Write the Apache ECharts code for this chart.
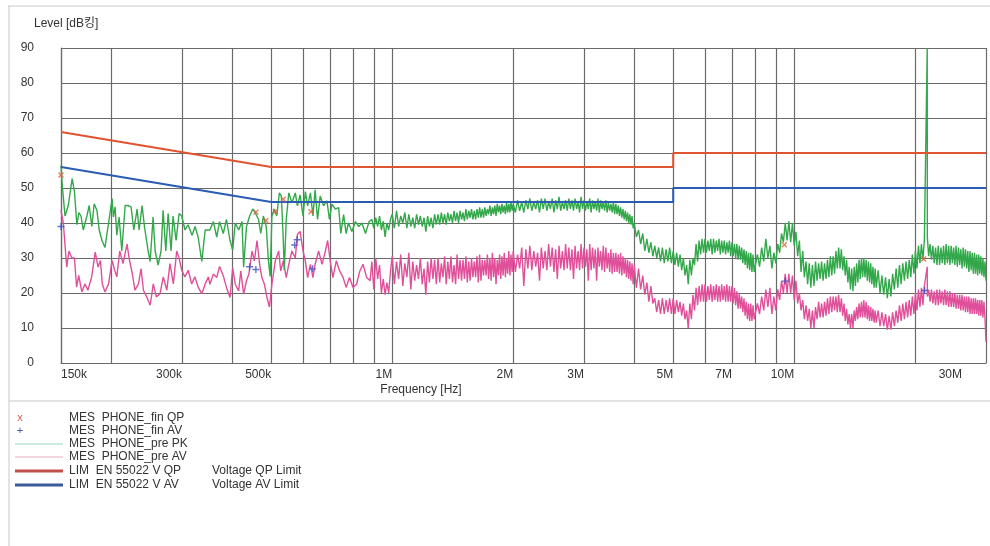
<!DOCTYPE html>
<html><head><meta charset="utf-8">
<script src="https://cdn.jsdelivr.net/npm/echarts@6/dist/echarts.min.js"></script>
<style>html,body{margin:0;padding:0;background:#fff}#c{width:990px;height:546px}</style>
</head><body><div id="c"></div>
<script>
// ---- axis ticks ----
const xTickHz = [150e3, 300e3, 500e3, 1e6, 2e6, 3e6, 5e6, 7e6, 10e6, 30e6];
const xTickLabels = ['150k', '300k', '500k', '1M', '2M', '3M', '5M', '7M', '10M', '30M'];
const xGridHz = [150e3, 200e3, 300e3, 400e3, 500e3, 600e3, 700e3, 800e3, 900e3, 1e6, 2e6, 3e6, 4e6, 5e6, 6e6, 7e6, 8e6, 9e6, 10e6, 20e6, 30e6];
const yTicks = [0, 10, 20, 30, 40, 50, 60, 70, 80, 90];

// ---- limits (EN 55022) ----
const limitFreqMHz = [0.15, 0.5, 5, 5, 30];
const qpLimit = [66, 56, 56, 60, 60];
const avLimit = [56, 46, 46, 50, 50];

// ---- final measurements ----
const finQpFreqMHz = [0.15, 0.458, 0.485, 0.512, 0.536, 0.628, 9.45, 21.0];
const finQp = [53.7, 43.1, 40.7, 43.3, 46.8, 43.2, 33.8, 29.7];
const finAvFreqMHz = [0.15, 0.442, 0.458, 0.572, 0.580, 0.634, 9.5, 21.1];
const finAv = [39, 27.5, 26.7, 33.7, 35.2, 26.9, 23.4, 20.7];

// ---- preview PK, 150k-880k (kHz) ----
const pkFreqLowKHz = [150,151,153.5,156.4,159.9,162,164.3,166.2,168.2,170.4,174,176.3,179,181.4,184.3,186.7,189.7,193,196.4,201,202.5,204.5,206.5,209.2,212.5,216.6,220,224.1,227.6,232,234.6,238.7,241.9,247.1,250,254.2,257.2,261.6,266.1,269.2,273.4,277.1,281.8,285,290,295,299.5,305.2,310.5,317.8,323.3,329,336,342.5,
352,359,366,372,380,387,395,401,407,415,423,427,434,442,450,456,465,471,478,486,492,497,502,509,516,524,530,535,539,545,553,563,574,581,590,600,608,616,626,635,643,652,662,675,688,698,708,722,736,745,757,768,778,794,810,826,841,858,876];
const pkLow = [56.5,51,42,45,52.7,49,39.5,43,42,38,42,45,39,45.5,43.6,38,35,33,39,47,41.7,44.6,36.5,41.7,32,45,45,44.6,38,44,38,45,39,32,29,41.7,32,28,32,43.6,32,42.7,32,42,35,42.7,42,38,39.5,36.5,39,36,29,38,
38,40.4,36,40.4,37,41,35,32.3,40,38,40.4,27.4,39,42,44,43,41,37,42,39,29.4,24.7,42,44,42,48.6,47.7,37,26.5,41,48.6,45.8,48.6,44.9,48,42,49,44.9,48.6,42,49.5,41,47.7,44.9,46.3,41,45.4,44,44.4,37,42.4,37,40,37.6,40.4,39,40,37,40.4];

// ---- preview AV, 150k-880k (kHz) ----
const avFreqLowKHz = [150,152,155,157,159.6,162,164,166,169,172,175,178.8,182.5,185.5,188,190,193,197,201,204,206.5,210,214,219,221.5,225.7,229,233.8,237.3,240.5,245,250,254.5,259,264.5,269.5,275,280,285.5,291,295,299.5,305,311,317,323,329,336,342.5,349,
352,359,366,372,380,387,395,401,407,415,420,427,434,440,448,454,461,468,474,481,488,495,502,512,522,528,536,545,553,563,574,581,590,600,608,616,626,635,643,656,669,682,691,701,712,726,740,755,768,783,799,815,831,846,864,881];
const avLow = [43.6,40,27.4,32,30,30,21.7,25,20.3,22.6,20.8,24.6,31.7,27.4,29.3,22.6,20.3,22.6,29.3,26.5,24.6,32,28.4,34,30,25.5,20.8,22.6,27,20.8,18.9,16.5,22.6,18.9,19.8,24.6,20.8,28.4,22.6,32,30,26.5,24.6,26.5,22.6,24.6,21.7,19.8,22.6,24.6,
22.5,25.4,24.4,27.6,24.9,21.6,18.7,27.2,22.5,20.6,26.3,19.7,23.5,25.4,32,29.2,35,28.2,24.4,22.5,18.7,16,22.5,29.2,32,26.3,29.2,24.4,28.2,32,30,36.7,37.6,32,29.2,24.4,28.2,24.4,28.2,32,28.2,32,35,29.2,24.4,29.2,26.3,24.4,21.6,24.4,21.6,22.5,26.3,28.2,24.4,23.5];

// ---- preview, 890k-990k (kHz) ----
const hfNearKHz = [890,900,910,920,930,940,950,960,970,980,990];
const pkNear = [41,38.5,41.5,39,42,38,40.5,36,40,38,41];
const avNear = [29,21,30,24,28,20,24,19.5,23,20,26];

// ---- preview, 1M-2M (kHz) ----
const hfAKHz = [1000,1012.5,1025,1037.5,1050,1062.5,1075,1087.5,1100,1112.5,1125,1137.5,1150,1162.5,1175,1187.5,
1200,1212.5,1225,1237.5,1250,1262.5,1275,1287.5,1300,1312.5,1325,1337.5,1350,1362.5,1375,1387.5,
1400,1412.5,1425,1437.5,1450,1462.5,1475,1487.5,1500,1512.5,1525,1537.5,1550,1562.5,1575,1587.5,
1600,1612.5,1625,1637.5,1650,1662.5,1675,1687.5,1700,1712.5,1725,1737.5,1750,1762.5,1775,1787.5,
1800,1812.5,1825,1837.5,1850,1862.5,1875,1887.5,1900,1912.5,1925,1937.5,1950,1962.5,1975,1987.5];
const pkA = [42.5,38.5,43.5,39,42,40,43,38.5,42.5,39,41.5,38.5,42.5,39.5,42,39,
41.5,37.5,42,39,41.5,38.5,42.5,39.5,42.5,39.5,43,40,42.5,39.5,43,40.5,
42.5,40,43.5,40.5,43,40,43.5,41,43,40.5,44,41,43.5,41.5,44,41,
43.5,41,44,41.5,44.5,41.5,44,41.5,44.5,42,44,42.5,45,42,44.5,42.5,
45,42,45.5,43,45,42.5,45.5,43,45,42.5,46,43,45.5,43,46,43.5];
const avA = [30.5,22.5,29,24,31,22,28.5,24.5,31.5,21,29,23.5,28,24,30,22.5,
27,19.5,29,23,30,24,29.5,22.5,30,23,28.5,24.5,30.5,22.5,29,24,
30.5,23,28,22.5,31,24,29.5,23.5,29.5,24,30.5,23,29,23.5,30,24.5,
29,24.5,30.5,23,31,23.5,29.5,25,29.5,25,31,24,30,23.5,31.5,24.5,
30,22.5,29.5,25,31,24,30.5,25,31.5,24.5,30,25.5,32,25,31,26];

// ---- preview, 2M-4M (kHz) ----
const hfBKHz = [2000,2025,2050,2075,2100,2125,2150,2175,2200,2225,2250,2275,2300,2325,2350,2375,
2400,2425,2450,2475,2500,2525,2550,2575,2600,2625,2650,2675,2700,2725,2750,2775,
2800,2825,2850,2875,2900,2925,2950,2975,3000,3025,3050,3075,3100,3125,3150,3175,
3200,3225,3250,3275,3300,3325,3350,3375,3400,3425,3450,3475,3500,3525,3550,3575,
3600,3625,3650,3675,3700,3725,3750,3775,3800,3825,3850,3875,3900,3925,3950,3975];
const pkB = [45.5,43,46.5,43.5,46,43,46.5,44,47,43.5,46,44,46.5,43,47,44,
47,43.5,46,44,47,43,46.5,44,47.5,43.5,46,44,46.5,43.5,47,44,
46.5,43.5,47,44,46,43,47.5,44,46.5,43.5,46,44,47,43,46.5,44,
46,43.5,47,43,46.5,44,46,43.5,46.5,43,46,43.5,45.5,43,46,42.5,
45.5,42.5,45,42,44.5,41.5,44,41,43.5,40.5,43,40,42.5,39.5,42,38.5];
const avB = [32,26,31,27,33,22,32.5,27,33.5,26.5,32,27.5,31.5,23.5,33,27,
32,26.5,34,27.5,33,26,32.5,24,33.5,27,32,26.5,34,27,33,26.5,
32.5,24,33.5,27,32,26.5,34,27,33,27.5,32.5,23.5,34,26.5,33,27,
32.5,23.5,33,27.5,32,26.5,33.5,26,33,27,31.5,26,32.5,25.5,31.5,26,
31.5,26,31,25.5,31.5,25,30.5,25.5,30,24.5,29.5,24,29,23.5,28.5,22.5];

// ---- preview, 4M-8M (kHz) ----
const hfCKHz = [4000,4050,4100,4150,4200,4250,4300,4350,4400,4450,4500,4550,4600,4650,4700,4750,4800,4850,4900,4950,
5000,5050,5100,5150,5200,5250,5300,5350,5400,5450,5500,5550,5600,5650,5700,5750,5800,5850,5900,5950,
6000,6050,6100,6150,6200,6250,6300,6350,6400,6450,6500,6550,6600,6650,6700,6750,6800,6850,6900,6950,
7000,7050,7100,7150,7200,7250,7300,7350,7400,7450,7500,7550,7600,7650,7700,7750,7800,7850,7900,7950];
const pkC = [40,36,38,34,37,32,35.5,31.5,34.5,30.5,33.5,30,33,29,33,28.5,32.5,29,33,28.5,
32,28,31.5,27.5,31,26.5,30,25,28,22.5,29.5,25,30,28,34,29,35,31,35.5,31.5,
35.5,31.5,35,32,35.5,31,35.5,31.5,35,32,35.5,31,35,31.5,35,31,34.5,31.5,35,30.5,
34.5,30.5,34,30,34,29.5,33.5,29.5,33,28.5,32.5,28,32,27,31.5,26.5,31.5,26,31,26];
const avC = [28,21.5,27,21,25,19.5,23,17.5,22,17,18.5,14.5,18,14,18.5,14,18,14.5,18.5,14,
18.5,14,18,14.5,17.5,13.5,17,12.5,15,10,17,12.5,19.5,15,21.5,16.5,22,17.5,22.5,17.5,
22.5,17.5,22,18,22.5,17.5,22,18,22.5,17.5,22,17.5,22.5,18,22,17.5,22.5,17.5,22,17.5,
22,17,21.5,16.5,20.5,15.5,20,15.5,19,14.5,18.5,13.5,17.5,12.5,17,12,17,12,16.5,12.5];

// ---- preview, 8M-16M (kHz) ----
const hfDKHz = [8000,8100,8200,8300,8400,8500,8600,8700,8800,8900,9000,9100,9200,9300,9400,9500,9600,9700,9800,9900,
10000,10100,10200,10300,10400,10500,10600,10700,10800,10900,11000,11100,11200,11300,11400,11500,11600,11700,11800,11900,
12000,12100,12200,12300,12400,12500,12600,12700,12800,12900,13000,13100,13200,13300,13400,13500,13600,13700,13800,13900,
14000,14100,14200,14300,14400,14500,14600,14700,14800,14900,15000,15100,15200,15300,15400,15500,15600,15700,15800,15900];
const pkD = [25.5,31,27.5,33,29,35.5,30,33.5,27,31.5,28.5,34,31.5,37,34.5,40,35,40.5,34.5,40,
33.5,37.5,30.5,35,26,32,24.5,29,22.5,28.5,21.5,28,22,29,23.5,28.5,24,29,23.5,28.5,
24,29.5,24.5,30.5,25,30.5,25.5,32,27,33,27,32.5,26.5,30.5,25,29.5,23,27.5,21,27,
20.5,27.5,22,28.5,23,29.5,24,30,24.5,30,24.5,29.5,23.5,29,23,28.5,22.5,27.5,21.5,27];
const avD = [12.5,17,14,19,15,21,16,21.5,14,19,15,21,18,23.5,20,25.5,20,25.5,20,25,
18,23.5,17,20,15,18,12.5,16.5,12,15.5,10,15,10,16,12.5,17.5,13,17,13,17.5,
13.5,18.5,14,19,14.5,19,15,19,14.5,19.5,14.5,18.5,13.5,17,12,15.5,11,14,10,14,
10,15,12,16,12.5,17,13,17.5,13,18,13,17.5,12.5,16.5,12,16,12,15.5,11.5,15];

// ---- preview, 16M-30M (kHz) ----
const hfEKHz = [16000,16175,16350,16525,16700,16875,17050,17225,17400,17575,17750,17925,18100,18275,18450,18625,18800,18975,19150,19325,
19500,19675,19850,20025,20200,20375,20550,20725,20900,21075,21250,21425,21440,
21600,21775,21950,22125,22300,22475,22650,22825,23000,23175,23350,23525,23700,23875,24050,24225,24400,24575,24750,24925,
25100,25275,25450,25625,25800,25975,26150,26325,26500,26675,26850,27025,27200,27375,27550,27725,27900,28075,28250,28425,
28600,28775,28950,29125,29300,29475,29650,29825,30000];
const pkE = [21.5,26.5,20,25,19.5,24.5,18.5,24,19,25.5,21,27,21.5,28,22.5,28.5,23.5,29,24,29.5,
24.5,31,25.5,32,27,33.5,28.5,34,29.5,35,35.5,90,36,
30.5,34,29.5,33.5,28.5,33,28,33.5,28,33,28.5,33.5,28,34,28.5,33.5,28,33.5,28.5,33,
28,33.5,27.5,33,28,32.5,27,33,27.5,32.5,27,32,26,32,26.5,31.5,25.5,31.5,25.5,31,
25,31,25.5,30.5,25,30,24.5,29,23.5];
const avE = [11.5,15,10.5,14.5,10.5,14,9.5,13.5,9.5,14.5,10.5,15,11.5,16.5,12,17,12.5,17.5,13,18,
13.5,19,14,20,15,21,16,21.5,16.5,22,22.5,27.5,19,
21,17.5,21,17,20.5,16.5,21,16.5,21,17,20.5,16.5,21,16.5,20.5,16,20.5,16,20,16,
20,15.5,19.5,15.5,19.5,15,19.5,15,19,14.5,19,14.5,19,14,18.5,14,18.5,14,18.5,14,
18,13.5,18,13.5,18,13,17.5,13,6];

// ---- build series data ----
const pairs = (fs, vs, k) => fs.map((f, i) => [f * k, vs[i]]);
const pkData = [].concat(
  pairs(pkFreqLowKHz, pkLow, 1e3), pairs(hfNearKHz, pkNear, 1e3), pairs(hfAKHz, pkA, 1e3),
  pairs(hfBKHz, pkB, 1e3), pairs(hfCKHz, pkC, 1e3), pairs(hfDKHz, pkD, 1e3), pairs(hfEKHz, pkE, 1e3));
const avData = [].concat(
  pairs(avFreqLowKHz, avLow, 1e3), pairs(hfNearKHz, avNear, 1e3), pairs(hfAKHz, avA, 1e3),
  pairs(hfBKHz, avB, 1e3), pairs(hfCKHz, avC, 1e3), pairs(hfDKHz, avD, 1e3), pairs(hfEKHz, avE, 1e3));

const FONT = '"Liberation Sans", Arial, "Noto Sans CJK KR", sans-serif';
const GRID_COLOR = '#6a6a6a';
const PK_COLOR = '#33a84a';
const AV_COLOR = '#e0509a';
const plusPath = 'path://M4,0H6V4H10V6H6V10H4V6H0V4H4Z';

const chart = echarts.init(document.getElementById('c'), null, {renderer: 'canvas'});

function xLabel(v) {
  const i = xTickHz.findIndex(t => Math.abs(t - v) / t < 1e-4);
  if (i < 0) return '';
  return i === xTickHz.length - 1 ? '{m|' + xTickLabels[i] + '}' : xTickLabels[i];
}

const legendRows = [
  {y: 418, sym: 'x', symColor: '#d8604a', text: 'MES  PHONE_fin QP'},
  {y: 431, sym: '+', symColor: '#3a55c0', text: 'MES  PHONE_fin AV'},
  {y: 444, line: '#9fd4c4', lw: 1, text: 'MES  PHONE_pre PK'},
  {y: 457, line: '#e6a9c0', lw: 1, text: 'MES  PHONE_pre AV'},
  {y: 471, line: '#c0504d', lw: 3, text: 'LIM  EN 55022 V QP', extra: 'Voltage QP Limit'},
  {y: 485, line: '#3c5a98', lw: 3, text: 'LIM  EN 55022 V AV', extra: 'Voltage AV Limit'}
];
const graphics = [
  {type: 'line', shape: {x1: 8, y1: 6, x2: 990, y2: 6}, style: {stroke: '#c8c8c8', lineWidth: 1}},
  {type: 'line', shape: {x1: 9, y1: 6, x2: 9, y2: 546}, style: {stroke: '#c8c8c8', lineWidth: 1}},
  {type: 'line', shape: {x1: 9, y1: 401, x2: 990, y2: 401}, style: {stroke: '#c8c8c8', lineWidth: 1}},
  {type: 'text', style: {text: 'Level [dB킹]', x: 34, y: 24, verticalAlign: 'middle', fill: '#333', fontSize: 12, fontFamily: FONT}},
  {type: 'text', style: {text: 'Frequency [Hz]', x: 421, y: 390, align: 'center', verticalAlign: 'middle', fill: '#333', fontSize: 12, fontFamily: FONT}}
];
legendRows.forEach(r => {
  if (r.sym) {
    graphics.push({type: 'text', style: {text: r.sym, x: 20, y: r.y, align: 'center', verticalAlign: 'middle', fill: r.symColor, fontSize: 11, fontFamily: FONT}});
  } else {
    graphics.push({type: 'line', shape: {x1: 15, y1: r.y, x2: 63, y2: r.y}, style: {stroke: r.line, lineWidth: r.lw}});
  }
  graphics.push({type: 'text', style: {text: r.text, x: 69, y: r.y, verticalAlign: 'middle', fill: '#333', fontSize: 12, fontFamily: FONT}});
  if (r.extra) graphics.push({type: 'text', style: {text: r.extra, x: 212, y: r.y, verticalAlign: 'middle', fill: '#333', fontSize: 12, fontFamily: FONT}});
});

chart.setOption({
  animation: false,
  backgroundColor: '#ffffff',
  grid: {left: 61, right: 4, top: 48, bottom: 183, containLabel: false, outerBoundsMode: 'none'},
  xAxis: {
    type: 'log', logBase: 10, min: 150e3, max: 30e6,
    axisLine: {show: true, lineStyle: {color: GRID_COLOR, width: 1.2}},
    axisTick: {show: false, customValues: xGridHz},
    splitLine: {show: true, lineStyle: {color: GRID_COLOR, width: 1.2}},
    minorTick: {show: false}, minorSplitLine: {show: false},
    axisLabel: {
      customValues: xTickHz, formatter: xLabel, align: 'right', alignMinLabel: 'left', alignMaxLabel: 'right',
      margin: 6, color: '#333', fontSize: 12, fontFamily: FONT,
      rich: {m: {padding: [0, 24, 0, 0], color: '#333', fontSize: 12, fontFamily: FONT}}
    }
  },
  yAxis: {
    type: 'value', min: 0, max: 90, interval: 10,
    axisLine: {show: true, lineStyle: {color: GRID_COLOR, width: 1.2}},
    axisTick: {show: false},
    splitLine: {show: true, lineStyle: {color: GRID_COLOR, width: 1.2}},
    axisLabel: {margin: 27, color: '#333', fontSize: 12, fontFamily: FONT,
      formatter: v => yTicks.includes(v) ? String(v) : ''}
  },
  graphic: graphics,
  series: [
    {name: 'MES PHONE_pre AV', type: 'line', data: avData, symbol: 'none', z: 3,
      lineStyle: {color: AV_COLOR, width: 1.4}},
    {name: 'MES PHONE_pre PK', type: 'line', data: pkData, symbol: 'none', z: 4,
      lineStyle: {color: PK_COLOR, width: 1.4}},
    {name: 'LIM EN 55022 V QP', type: 'line', data: pairs(limitFreqMHz, qpLimit, 1e6), symbol: 'none', z: 5,
      lineStyle: {color: '#e0532f', width: 2}},
    {name: 'LIM EN 55022 V AV', type: 'line', data: pairs(limitFreqMHz, avLimit, 1e6), symbol: 'none', z: 5,
      lineStyle: {color: '#2b5cb3', width: 2}},
    {name: 'MES PHONE_fin QP', type: 'scatter', data: pairs(finQpFreqMHz, finQp, 1e6), symbol: plusPath, symbolRotate: 45,
      symbolSize: 7, z: 6, clip: false, itemStyle: {color: '#d9673f'}},
    {name: 'MES PHONE_fin AV', type: 'scatter', data: pairs(finAvFreqMHz, finAv, 1e6), symbol: plusPath,
      symbolSize: 7, z: 6, clip: false, itemStyle: {color: '#3553c4'}}
  ]
});
</script>
</body></html>
